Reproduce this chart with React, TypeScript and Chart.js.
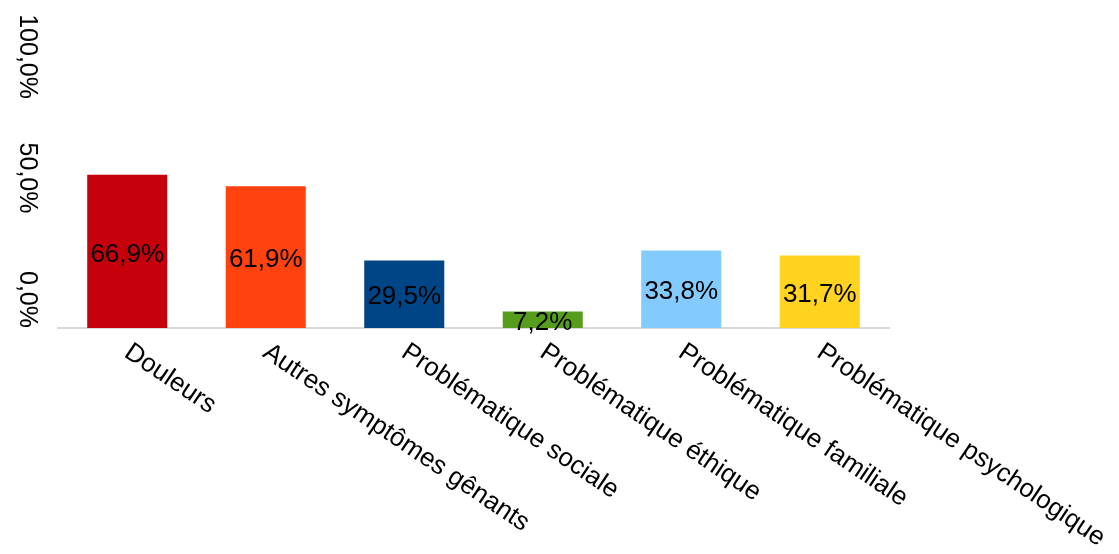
import React, { useEffect, useRef } from 'react';
import { Chart, registerables } from 'chart.js';

Chart.register(...registerables);

const categories = [
  'Douleurs',
  'Autres symptômes gênants',
  'Problématique sociale',
  'Problématique éthique',
  'Problématique familiale',
  'Problématique psychologique',
];
const values = [66.9, 61.9, 29.5, 7.2, 33.8, 31.7];
const barColors = ['#C5000B', '#FF420E', '#004586', '#579D1C', '#83CAFF', '#FFD320'];
const yTickValues = [0, 50, 100];
const yTickLabels = ['0,0%', '50,0%', '100,0%'];

const FONT = '"Liberation Sans", Arial, sans-serif';
const fmt = (v: number) => v.toFixed(1).replace('.', ',') + '%';

const textPlugin = {
  id: 'customText',
  afterDatasetsDraw(chart: any) {
    const ctx = chart.ctx as CanvasRenderingContext2D;
    const xs = chart.scales.x;
    const ys = chart.scales.y;
    const area = chart.chartArea;
    ctx.save();
    ctx.fillStyle = '#000000';

    // y tick labels (rotated, reading top to bottom)
    ctx.font = `25px ${FONT}`;
    yTickValues.forEach((v, i) => {
      const y = ys.getPixelForValue(v);
      ctx.save();
      ctx.translate(27, y);
      ctx.rotate(Math.PI / 2);
      ctx.textAlign = 'right';
      ctx.textBaseline = 'middle';
      ctx.fillText(yTickLabels[i], 0, 0);
      ctx.restore();
    });

    // x category labels (rotated clockwise)
    ctx.font = `26px ${FONT}`;
    const ang = (34 * Math.PI) / 180;
    categories.forEach((c, i) => {
      const x = xs.getPixelForTick(i);
      ctx.save();
      ctx.translate(x + 7, area.bottom + 11);
      ctx.rotate(ang);
      ctx.textAlign = 'left';
      ctx.textBaseline = 'top';
      ctx.fillText(c, 0, 0);
      ctx.restore();
    });

    // value labels inside bars
    ctx.font = `26px ${FONT}`;
    ctx.textAlign = 'center';
    ctx.textBaseline = 'middle';
    const meta = chart.getDatasetMeta(0);
    meta.data.forEach((bar: any, i: number) => {
      const p = bar.getProps(['x', 'y', 'base'], true);
      ctx.fillText(fmt(values[i]), p.x, (p.y + p.base) / 2 + 3);
    });
    ctx.restore();
  },
};

export default function App() {
  const ref = useRef<HTMLCanvasElement | null>(null);
  useEffect(() => {
    if (!ref.current) return;
    const chart = new Chart(ref.current, {
      type: 'bar',
      data: {
        labels: categories,
        datasets: [
          {
            data: values,
            backgroundColor: barColors,
            borderWidth: 0,
            barPercentage: 0.578,
            categoryPercentage: 1,
          },
        ],
      },
      options: {
        responsive: false,
        animation: false,
        layout: { padding: { left: 58, right: 230, top: 99, bottom: 226 } },
        plugins: { legend: { display: false }, tooltip: { enabled: false } },
        scales: {
          x: {
            grid: { display: false, drawTicks: false },
            ticks: { display: false },
            border: { display: true, color: '#D9D9D9', width: 2 },
          },
          y: {
            display: false,
            min: 0,
            max: 100,
          },
        },
      },
      plugins: [textPlugin],
    });
    return () => chart.destroy();
  }, []);
  return (
    <div style={{ position: 'absolute', left: 0, top: 0, width: 1119, height: 554, background: '#fff' }}>
      <canvas ref={ref} width={1119} height={554} />
    </div>
  );
}
